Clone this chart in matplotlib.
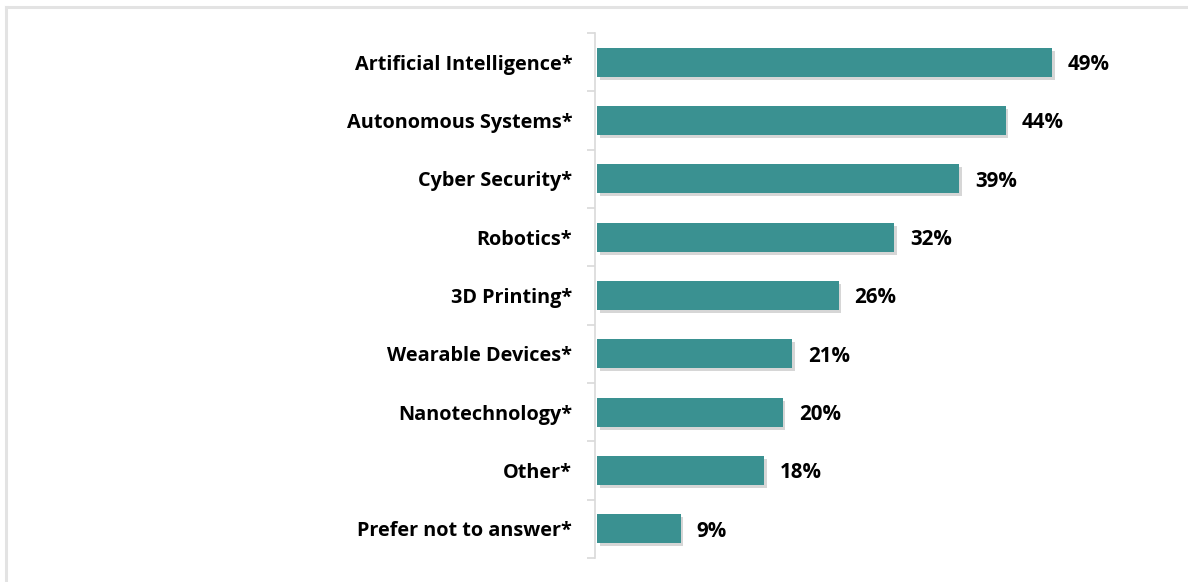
import matplotlib
matplotlib.use("Agg")
import matplotlib.pyplot as plt
import matplotlib.patheffects as pe
from matplotlib.lines import Line2D
import numpy as np

categories = [
    "Artificial Intelligence*",
    "Autonomous Systems*",
    "Cyber Security*",
    "Robotics*",
    "3D Printing*",
    "Wearable Devices*",
    "Nanotechnology*",
    "Other*",
    "Prefer not to answer*",
]
values = [49, 44, 39, 32, 26, 21, 20, 18, 9]
value_labels = ["49%", "44%", "39%", "32%", "26%", "21%", "20%", "18%", "9%"]

BAR_COLOR = "#3A9191"
AXIS_COLOR = "#D9D9D9"
FONT = "Open Sans"

W, H = 1188, 582
fig = plt.figure(figsize=(W / 100, H / 100), dpi=100)
fig.patch.set_facecolor("white")

# light frame along the top and left edges
fig.add_artist(Line2D([6 / W, 1], [1 - 6.5 / H, 1 - 6.5 / H], color="#E3E3E3", lw=2.2,
                      transform=fig.transFigure))
fig.add_artist(Line2D([6 / W, 6 / W], [0, 1 - 6.5 / H], color="#E3E3E3", lw=2.2,
                      transform=fig.transFigure))

px_per_unit = 9.28
x0 = -0.3
x1 = 56
left_px, top_px, bottom_px = 594.5, 33, 558
ax = fig.add_axes([left_px / W, 1 - bottom_px / H,
                   (x1 - x0) * px_per_unit / W, (bottom_px - top_px) / H])

y = np.arange(len(categories))
bars = ax.barh(y, values, height=0.5, color=BAR_COLOR, zorder=3)
for b in bars:
    b.set_path_effects([
        pe.SimplePatchShadow(offset=(1.8, -2.2), shadow_rgbFace="#8C8C8C", alpha=0.35),
        pe.Normal(),
    ])

for yi, v, lab in zip(y, values, value_labels):
    ax.text(v + 16 / px_per_unit, yi + 0.04, lab, va="center", ha="left",
            fontsize=14.8, fontweight="bold", family=FONT, color="black")

ax.set_xlim(x0, x1)
ax.set_ylim(len(categories) - 0.5, -0.5)

ax.set_yticks(y)
ax.set_yticklabels(categories, fontsize=14.3, fontweight="bold", family=FONT)
ax.tick_params(axis="y", which="major", length=0, pad=16)
ax.set_yticks(np.arange(-0.5, len(categories), 1.0), minor=True)
ax.tick_params(axis="y", which="minor", length=6, color=AXIS_COLOR, width=1.2)
ax.set_xticks([])

for s in ["top", "right", "bottom"]:
    ax.spines[s].set_visible(False)
ax.spines["left"].set_color(AXIS_COLOR)
ax.spines["left"].set_linewidth(1.2)
ax.set_facecolor("none")

fig.savefig("out.png", dpi=100)
